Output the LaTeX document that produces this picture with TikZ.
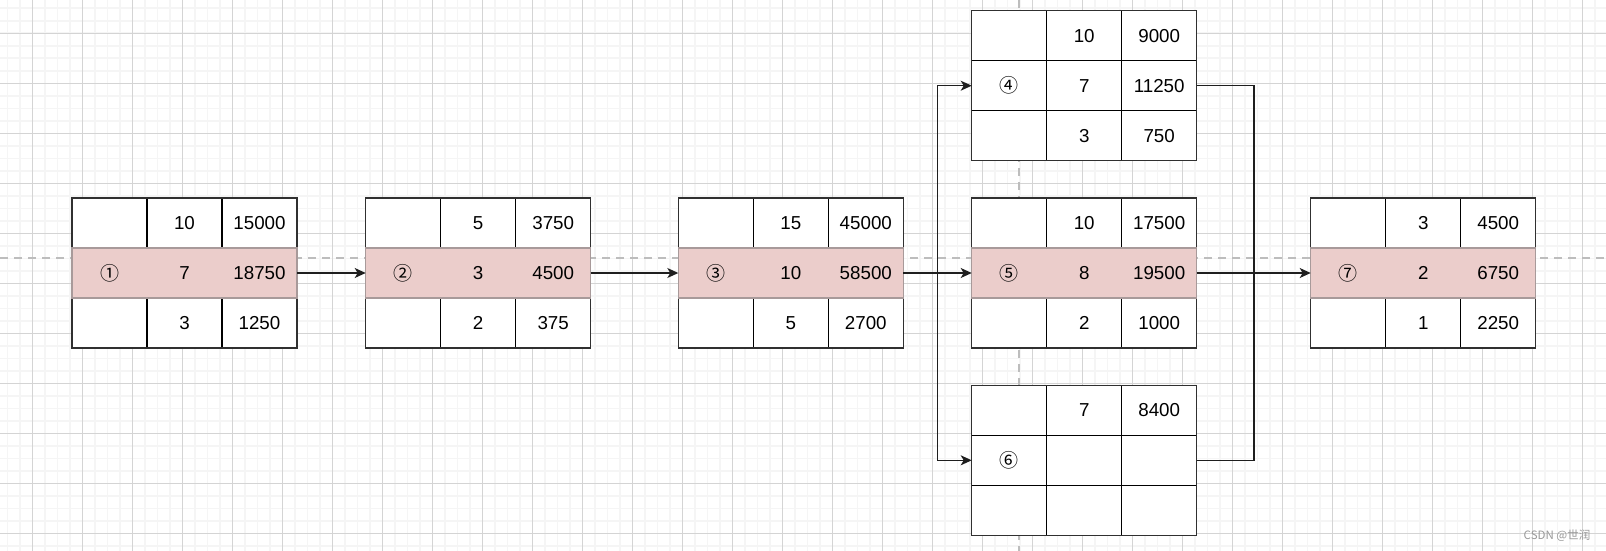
\documentclass[tikz,border=0pt]{standalone}
\usepackage{fontspec}
\setmainfont{Liberation Sans}
\newfontfamily\cjk{Noto Sans CJK SC}
\usetikzlibrary{arrows.meta}
\definecolor{pinkfill}{HTML}{EBCDCB}
\definecolor{pinkline}{HTML}{A89A9A}
\definecolor{boxline}{HTML}{303030}
\definecolor{minorc}{HTML}{F5F5F5}
\definecolor{majorc}{HTML}{D4D4D4}
\definecolor{pagec}{HTML}{BDBDBD}
\definecolor{connc}{HTML}{1E1E1E}
\tikzset{
  tbox/.style={draw=boxline, line width=1.2pt, fill=white, minimum width=225pt, minimum height=150pt, inner sep=0pt, outer sep=0pt},
  cellline/.style={draw=black, line width=1.2pt},
  pinkrow/.style={fill=pinkfill, draw=pinkline, line width=1.3pt},
  plainrow/.style={},
  celltext/.style={font=\fontsize{18.75}{22}\selectfont, text=black, inner sep=0pt},
  circtext/.style={font=\cjk\fontsize{19}{22}\selectfont, text=black, inner sep=0pt},
  minorgrid/.style={draw=minorc, line width=1.6pt},
  majorgrid/.style={draw=majorc, line width=1pt},
  pageline/.style={draw=pagec, line width=2pt, dash pattern=on 8pt off 6pt},
  link/.style={draw=connc, line width=1.3pt},
  conn/.style={link, -{Stealth[length=11pt,width=10pt,inset=3pt]}},
}
% box: name, center, middle-row style
\newcommand\tbl[3]{%
  \node[tbox] (#1) at (#2) {};
  \draw[cellline] ([xshift=75pt]#1.north west) -- ([xshift=75pt]#1.south west);
  \draw[cellline] ([xshift=150pt]#1.north west) -- ([xshift=150pt]#1.south west);
  \draw[cellline] ([yshift=-50pt]#1.north west) -- ([yshift=-50pt]#1.north east);
  \draw[cellline] ([yshift=50pt]#1.south west) -- ([yshift=50pt]#1.south east);
  \draw[draw=boxline, line width=1.2pt] (#1.north west) rectangle (#1.south east);
  \path[#3] ([yshift=-50pt]#1.north west) rectangle ([yshift=50pt]#1.south east);
}
% cell texts: name, label, r1c2, r1c3, r2c2, r2c3, r3c2
\newcommand\cells[7]{%
  \node[circtext] (#1-lab) at ([xshift=37.5pt,yshift=-75pt]#1.north west) {#2};
  \node[celltext] (#1-a) at ([xshift=112.5pt,yshift=-25pt]#1.north west) {#3};
  \node[celltext] (#1-b) at ([xshift=187.5pt,yshift=-25pt]#1.north west) {#4};
  \node[celltext] (#1-c) at ([xshift=112.5pt,yshift=-75pt]#1.north west) {#5};
  \node[celltext] (#1-d) at ([xshift=187.5pt,yshift=-75pt]#1.north west) {#6};
  \node[celltext] (#1-e) at ([xshift=112.5pt,yshift=-125pt]#1.north west) {#7};
}
\newcommand\cellf[2]{%
  \node[celltext] (#1-f) at ([xshift=187.5pt,yshift=-125pt]#1.north west) {#2};
}
\begin{document}
\begin{tikzpicture}[x=1pt,y=-1pt]
\useasboundingbox (0,0) rectangle (1606,551);
\fill[white] (0,0) rectangle (1606,551);
% grid
\foreach \i in {0,...,130} { \draw[minorgrid] ({-17.7+12.5*\i},0) -- ({-17.7+12.5*\i},551); }
\foreach \i in {0,...,45} { \draw[minorgrid] (0,{-16.7+12.5*\i}) -- (1606,{-16.7+12.5*\i}); }
\foreach \i in {0,...,32} { \draw[majorgrid] ({32.3+50*\i},0) -- ({32.3+50*\i},551); }
\foreach \i in {0,...,10} { \draw[majorgrid] (0,{33.3+50*\i}) -- (1606,{33.3+50*\i}); }
% page break lines
\draw[pageline] (0,258.3) -- (1606,258.3);
\draw[pageline] (1019.3,0) -- (1019.3,551);
% boxes
\tbl{b1}{184.5,273}{pinkrow}
\cells{b1}{①}{10}{15000}{7}{18750}{3}\cellf{b1}{1250}
\tbl{b2}{478.2,273}{pinkrow}
\cells{b2}{②}{5}{3750}{3}{4500}{2}\cellf{b2}{375}
\tbl{b3}{790.8,273}{pinkrow}
\cells{b3}{③}{15}{45000}{10}{58500}{5}\cellf{b3}{2700}
\tbl{b4}{1084.2,85.7}{plainrow}
\cells{b4}{④}{10}{9000}{7}{11250}{3}\cellf{b4}{750}
\tbl{b5}{1084.2,273}{pinkrow}
\cells{b5}{⑤}{10}{17500}{8}{19500}{2}\cellf{b5}{1000}
\tbl{b6}{1084.2,460.3}{plainrow}
\cells{b6}{⑥}{7}{8400}{}{}{}
\tbl{b7}{1423.2,273}{pinkrow}
\cells{b7}{⑦}{3}{4500}{2}{6750}{1}\cellf{b7}{2250}
% connectors
\coordinate (split) at (937.3,273);
\coordinate (merge) at (1254,273);
\draw[conn] (b1.east) -- (b2.west);
\draw[conn] (b2.east) -- (b3.west);
\draw[conn] (b3.east) -- (b5.west);
\draw[conn] (split) |- (b4.west);
\draw[conn] (split) |- (b6.west);
\draw[link] (b4.east) -| (merge);
\draw[link] (b6.east) -| (merge);
\draw[conn] (b5.east) -- (b7.west);
% watermark
\node[font=\cjk\fontsize{11.5}{13}\selectfont, text=black!40, inner sep=0pt] (wm) at (1557,535.7) {CSDN @世润};
\end{tikzpicture}
\end{document}
